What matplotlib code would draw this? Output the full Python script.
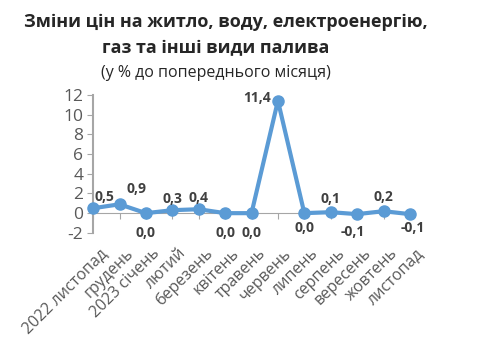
import matplotlib.pyplot as plt
import matplotlib.transforms as mtransforms

months = ['2022 листопад', 'грудень', '2023 січень', 'лютий', 'березень',
          'квітень', 'травень', 'червень', 'липень', 'серпень', 'вересень',
          'жовтень', 'листопад']
values = [0.5, 0.9, 0.0, 0.3, 0.4, 0.0, 0.0, 11.4, 0.0, 0.1, -0.1, 0.2, -0.1]
# label offsets in points (dx, dy)
offsets = [(8, 8), (12, 11), (0, -14), (0, 8), (0, 8), (0, -14), (0, -14),
           (-15, 2), (0, -11), (0, 9.5), (-3, -13), (0, 10), (2, -10)]
yticks = [-2, 0, 2, 4, 6, 8, 10, 12]

plt.rcParams['font.family'] = ['Open Sans', 'DejaVu Sans']

fig = plt.figure(figsize=(4.8, 3.45), dpi=100)
ax = fig.add_axes([0.194, 0.325, 0.66, 0.40])

blue = '#5B9BD5'
grey = '#595959'
x = list(range(len(values)))
ax.plot(x, values, color=blue, lw=3, marker='o', ms=8, zorder=3, clip_on=False)

for i, v in enumerate(values):
    txt = f'{v:.1f}'.replace('.', ',')
    dx, dy = offsets[i]
    ax.annotate(txt, (i, v), xytext=(dx, dy), textcoords='offset points',
                ha='center', va='center', fontsize=10, fontweight='bold',
                color='#404040')

ax.set_xlim(0, len(values) - 1)
ax.set_ylim(-2, 12)
ax.set_yticks(yticks)
ax.set_yticklabels([str(t) for t in yticks], color=grey, fontsize=12.5)
ax.set_xticks(x)
ax.set_xticklabels([])
ax.tick_params(axis='x', length=4, color='#A6A6A6', direction='out')
ax.tick_params(axis='y', length=4, color='#A6A6A6', pad=3)

for s in ['top', 'right']:
    ax.spines[s].set_visible(False)
ax.spines['bottom'].set_position(('data', 0))
ax.spines['bottom'].set_color('#A6A6A6')
ax.spines['left'].set_color('#A6A6A6')
ax.spines['left'].set_linewidth(1.5)

trans = mtransforms.blended_transform_factory(ax.transData, ax.transAxes)
for i, m in enumerate(months):
    ax.text(i + 0.22, -0.09, m, transform=trans, rotation=45,
            rotation_mode='anchor', ha='right', va='top', fontsize=11.5,
            color=grey)

fig.text(0.47, 0.936, 'Зміни цін на житло, воду, електроенергію,',
         ha='center', va='center', fontsize=13, fontweight='bold',
         color='#262626')
fig.text(0.45, 0.861, 'газ та інші види палива', ha='center', va='center',
         fontsize=13, fontweight='bold', color='#262626')
fig.text(0.45, 0.788, '(у % до попереднього місяця)', ha='center',
         va='center', fontsize=11.5, color='#262626')

fig.savefig('out.png', dpi=100)
